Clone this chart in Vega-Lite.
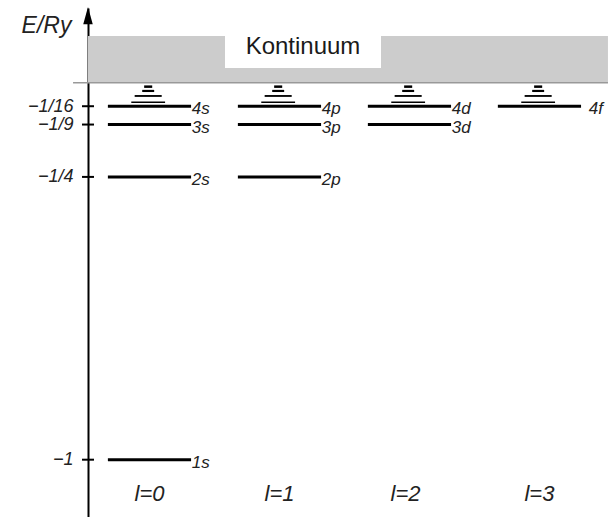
{
  "$schema": "https://vega.github.io/schema/vega-lite/v6.json",
  "width": 521,
  "height": 509,
  "autosize": {"type": "none"},
  "padding": {"left": 88, "top": 8, "right": 0, "bottom": 0},
  "background": "white",
  "config": {"view": {"stroke": null}},
  "datasets": {
    "continuum": [{"x": -0.473, "x2": 3.527, "y": 0, "y2": 0.124}],
    "box": [{"x": 0.581, "x2": 1.781, "y": 0.039, "y2": 0.126}],
    "boxlabel": [{"x": 1.181, "y": 0.094, "label": "Kontinuum"}],
    "zero": [{"x": -0.588, "x2": 3.527, "y": 0}],
    "levels": [
      {"x": -0.32, "x2": 0.32, "y": -1, "label": "1s"},
      {"x": -0.32, "x2": 0.32, "y": -0.25, "label": "2s"},
      {"x": -0.32, "x2": 0.32, "y": -0.11111, "label": "3s"},
      {"x": -0.32, "x2": 0.32, "y": -0.0625, "label": "4s"},
      {"x": 0.68, "x2": 1.32, "y": -0.25, "label": "2p"},
      {"x": 0.68, "x2": 1.32, "y": -0.11111, "label": "3p"},
      {"x": 0.68, "x2": 1.32, "y": -0.0625, "label": "4p"},
      {"x": 1.68, "x2": 2.32, "y": -0.11111, "label": "3d"},
      {"x": 1.68, "x2": 2.32, "y": -0.0625, "label": "4d"},
      {"x": 2.68, "x2": 3.32, "y": -0.0625, "label": "4f"}
    ],
    "levellabels": [
      {"x": 0.325, "y": -1, "label": "1s"},
      {"x": 0.325, "y": -0.25, "label": "2s"},
      {"x": 0.325, "y": -0.11111, "label": "3s"},
      {"x": 0.325, "y": -0.0625, "label": "4s"},
      {"x": 1.325, "y": -0.25, "label": "2p"},
      {"x": 1.325, "y": -0.11111, "label": "3p"},
      {"x": 1.325, "y": -0.0625, "label": "4p"},
      {"x": 2.325, "y": -0.11111, "label": "3d"},
      {"x": 2.325, "y": -0.0625, "label": "4d"},
      {"x": 3.38, "y": -0.0625, "label": "4f"}
    ],
    "sub": [
      {"x": -0.041, "x2": 0.021, "y": -0.0106, "k": "a"},
      {"x": -0.056, "x2": 0.036, "y": -0.022, "k": "b"},
      {"x": -0.114, "x2": 0.094, "y": -0.0353, "k": "c"},
      {"x": -0.14, "x2": 0.12, "y": -0.052, "k": "d"},
      {"x": 0.959, "x2": 1.021, "y": -0.0106, "k": "a"},
      {"x": 0.944, "x2": 1.036, "y": -0.022, "k": "b"},
      {"x": 0.886, "x2": 1.094, "y": -0.0353, "k": "c"},
      {"x": 0.86, "x2": 1.12, "y": -0.052, "k": "d"},
      {"x": 1.959, "x2": 2.021, "y": -0.0106, "k": "a"},
      {"x": 1.944, "x2": 2.036, "y": -0.022, "k": "b"},
      {"x": 1.886, "x2": 2.094, "y": -0.0353, "k": "c"},
      {"x": 1.86, "x2": 2.12, "y": -0.052, "k": "d"},
      {"x": 2.959, "x2": 3.021, "y": -0.0106, "k": "a"},
      {"x": 2.944, "x2": 3.036, "y": -0.022, "k": "b"},
      {"x": 2.886, "x2": 3.094, "y": -0.0353, "k": "c"},
      {"x": 2.86, "x2": 3.12, "y": -0.052, "k": "d"}
    ],
    "ticks": [
      {"x": -0.519, "x2": -0.427, "y": -1},
      {"x": -0.519, "x2": -0.427, "y": -0.25},
      {"x": -0.519, "x2": -0.427, "y": -0.11111},
      {"x": -0.519, "x2": -0.427, "y": -0.0625}
    ],
    "arrow": [{"x": -0.473, "y": 0.178}],
    "llabels": [
      {"x": 0.0, "y": -1.09, "label": "l=0"},
      {"x": 1.0, "y": -1.09, "label": "l=1"},
      {"x": 1.97, "y": -1.09, "label": "l=2"},
      {"x": 3.0, "y": -1.09, "label": "l=3"}
    ]
  },
  "layer": [
    {
      "data": {"name": "continuum"},
      "mark": {"type": "rect", "color": "#cccccc"},
      "encoding": {
        "x": {"field": "x", "type": "quantitative", "scale": {"domain": [-0.473, 3.535], "nice": false, "zero": false}, "axis": null},
        "x2": {"field": "x2"},
        "y": {
          "field": "y", "type": "quantitative",
          "scale": {"domain": [-1.152, 0.198], "nice": false, "zero": false},
          "axis": {
            "values": [-1, -0.25, -0.11111, -0.0625],
            "labelExpr": "datum.value == -1 ? '−1' : datum.value == -0.25 ? '−1/4' : datum.value < -0.1 ? '−1/9' : '−1/16'",
            "labelOverlap": false,
            "labelBound": false,
            "labelFlush": false,
            "ticks": false,
            "grid": false,
            "domain": true,
            "domainColor": "#000000",
            "domainWidth": 2,
            "labelPadding": 15,
            "labelFont": "Liberation Sans",
            "labelFontStyle": "italic",
            "labelFontSize": 18,
            "labelColor": "#222222",
            "labelBaseline": "middle",
            "title": "E/Ry",
            "titleAngle": 0,
            "titleAlign": "center",
            "titleBaseline": "middle",
            "titleX": -42,
            "titleY": 17,
            "titleFont": "Liberation Sans",
            "titleFontStyle": "italic",
            "titleFontWeight": "normal",
            "titleFontSize": 23,
            "titleColor": "#222222"
          }
        },
        "y2": {"field": "y2"}
      }
    },
    {
      "data": {"name": "box"},
      "mark": {"type": "rect", "color": "#ffffff"},
      "encoding": {
        "x": {"field": "x", "type": "quantitative"},
        "x2": {"field": "x2"},
        "y": {"field": "y", "type": "quantitative"},
        "y2": {"field": "y2"}
      }
    },
    {
      "data": {"name": "boxlabel"},
      "mark": {"type": "text", "font": "Liberation Sans", "fontSize": 24, "color": "#1a1a1a", "align": "center", "baseline": "middle"},
      "encoding": {
        "x": {"field": "x", "type": "quantitative"},
        "y": {"field": "y", "type": "quantitative"},
        "text": {"field": "label"}
      }
    },
    {
      "data": {"name": "zero"},
      "mark": {"type": "rule", "color": "#999999", "strokeWidth": 1.5},
      "encoding": {
        "x": {"field": "x", "type": "quantitative"},
        "x2": {"field": "x2"},
        "y": {"field": "y", "type": "quantitative"}
      }
    },
    {
      "data": {"name": "levels"},
      "mark": {"type": "rule", "color": "#000000", "strokeWidth": 3},
      "encoding": {
        "x": {"field": "x", "type": "quantitative"},
        "x2": {"field": "x2"},
        "y": {"field": "y", "type": "quantitative"}
      }
    },
    {
      "data": {"name": "sub"},
      "mark": {"type": "rule", "color": "#000000"},
      "encoding": {
        "x": {"field": "x", "type": "quantitative"},
        "x2": {"field": "x2"},
        "y": {"field": "y", "type": "quantitative"},
        "strokeWidth": {"field": "k", "type": "nominal", "scale": {"domain": ["a", "b", "c", "d"], "range": [2.5, 1.5, 1, 1.2]}, "legend": null}
      }
    },
    {
      "data": {"name": "levellabels"},
      "mark": {"type": "text", "font": "Liberation Sans", "fontStyle": "italic", "fontSize": 17, "color": "#222222", "align": "left", "baseline": "middle", "dy": 3},
      "encoding": {
        "x": {"field": "x", "type": "quantitative"},
        "y": {"field": "y", "type": "quantitative"},
        "text": {"field": "label"}
      }
    },
    {
      "data": {"name": "ticks"},
      "mark": {"type": "rule", "color": "#000000", "strokeWidth": 2, "clip": false},
      "encoding": {
        "x": {"field": "x", "type": "quantitative"},
        "x2": {"field": "x2"},
        "y": {"field": "y", "type": "quantitative"}
      }
    },
    {
      "data": {"name": "arrow"},
      "mark": {"type": "point", "shape": "M0,-1L0.55,1L-0.55,1Z", "size": 300, "filled": true, "color": "#000000", "opacity": 1},
      "encoding": {
        "x": {"field": "x", "type": "quantitative"},
        "y": {"field": "y", "type": "quantitative"}
      }
    },
    {
      "data": {"name": "llabels"},
      "mark": {"type": "text", "font": "Liberation Sans", "fontStyle": "italic", "fontSize": 22, "color": "#222222", "align": "center", "baseline": "middle"},
      "encoding": {
        "x": {"field": "x", "type": "quantitative"},
        "y": {"field": "y", "type": "quantitative"},
        "text": {"field": "label"}
      }
    }
  ]
}
